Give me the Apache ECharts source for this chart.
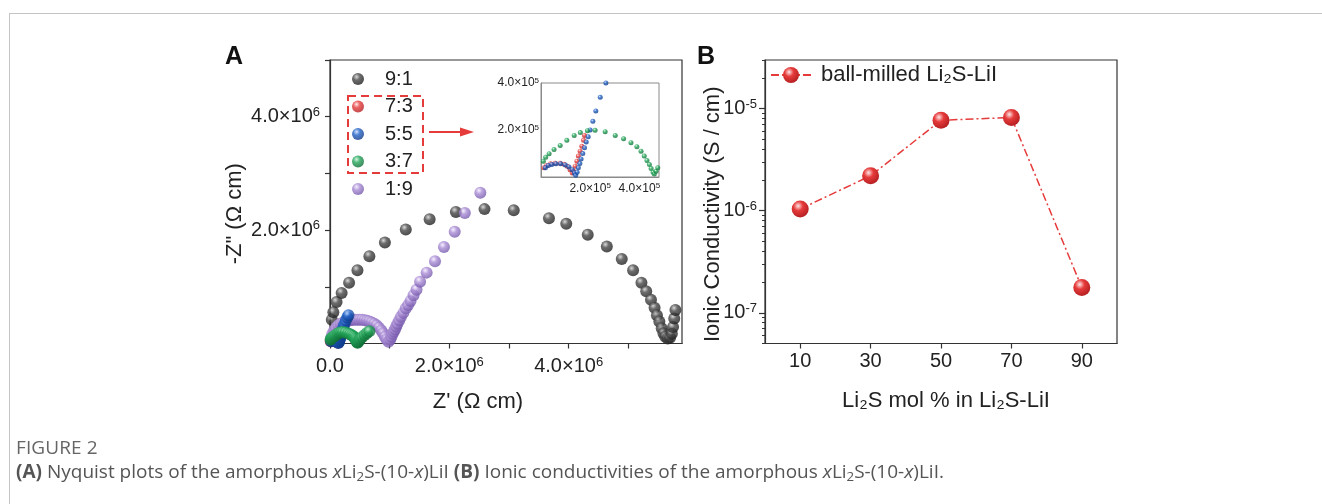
<!DOCTYPE html>
<html>
<head>
<meta charset="utf-8">
<script src="https://cdn.jsdelivr.net/npm/echarts@6/dist/echarts.min.js"></script>
<style>
  body { margin: 0; background: #fff; }
  #wrap { position: relative; width: 1322px; height: 504px; overflow: hidden; }
  #chart { position: absolute; left: 0; top: 0; width: 1322px; height: 504px; }
  #frame { position: absolute; left: 9px; top: 13px; width: 1330px; height: 520px;
           border-top: 1px solid #c4c4c4; border-left: 1px solid #c4c4c4; pointer-events: none; }
  .cap { position: absolute; left: 16px; font-family: "Open Sans", "Noto Sans", sans-serif; color: #555; white-space: nowrap; }
  .cap sub { font-size: 70%; vertical-align: -3px; line-height: 0; }
</style>
</head>
<body>
<div id="wrap">
  <div id="chart"></div>
  <div id="frame"></div>
  <div class="cap" style="top:434px;font-size:19px;letter-spacing:0.1px;color:#666;">FIGURE 2</div>
  <div class="cap" style="top:458px;font-size:19px;"><b>(A)</b> Nyquist plots of the amorphous <i>x</i>Li<sub>2</sub>S-(10-<i>x</i>)LiI <b>(B)</b> Ionic conductivities of the amorphous <i>x</i>Li<sub>2</sub>S-(10-<i>x</i>)LiI.</div>
</div>
<script>
var names = ['9:1', '7:3', '5:5', '3:7', '1:9'];

// Nyquist data, 9:1 and 1:9 in 10^6 Ohm cm
var re91 = [0.03, 0.056, 0.11, 0.195, 0.32, 0.46, 0.66, 0.92, 1.27, 1.67, 2.11, 2.59, 3.08, 3.67, 3.96, 4.32,
            4.64, 4.89, 5.08, 5.22, 5.30, 5.38, 5.44, 5.48, 5.52, 5.56, 5.59, 5.62, 5.66, 5.70, 5.73, 5.75, 5.77, 5.79];
var im91 = [0.42, 0.55, 0.73, 0.89, 1.07, 1.29, 1.54, 1.78, 2.01, 2.19, 2.32, 2.37, 2.35, 2.21, 2.11, 1.92,
            1.71, 1.49, 1.29, 1.07, 0.92, 0.77, 0.63, 0.50, 0.39, 0.27, 0.18, 0.12, 0.09, 0.10, 0.17, 0.29, 0.44, 0.59];
var re19 = [0.02, 0.04, 0.07, 0.10, 0.14, 0.18, 0.22, 0.26, 0.30, 0.34, 0.38, 0.42, 0.46, 0.50, 0.54, 0.58, 0.62, 0.66,
            0.70, 0.74, 0.78, 0.82, 0.86, 0.89, 0.92, 0.95, 0.98, 1.01, 1.03, 1.05, 1.07, 1.09, 1.11, 1.13, 1.16, 1.19,
            1.23, 1.27, 1.31, 1.35, 1.40, 1.45, 1.51, 1.62, 1.76, 1.91, 2.09, 2.26, 2.52];
var im19 = [0.10, 0.17, 0.23, 0.28, 0.32, 0.35, 0.37, 0.39, 0.40, 0.41, 0.42, 0.42, 0.42, 0.42, 0.42, 0.41, 0.40, 0.39,
            0.37, 0.35, 0.32, 0.28, 0.23, 0.18, 0.12, 0.07, 0.03, 0.07, 0.12, 0.17, 0.21, 0.25, 0.30, 0.35, 0.41, 0.47,
            0.54, 0.62, 0.68, 0.75, 0.85, 0.95, 1.09, 1.25, 1.45, 1.70, 1.97, 2.30, 2.66];
// 7:3, 5:5, 3:7 in 10^5 Ohm cm
var re73 = [0.12, 0.23, 0.39, 0.57, 0.78, 0.94, 1.07, 1.18, 1.27, 1.33, 1.39, 1.46, 1.52, 1.59, 1.66, 1.73, 1.77];
var im73 = [0.39, 0.49, 0.56, 0.59, 0.59, 0.54, 0.46, 0.31, 0.17, 0.24, 0.46, 0.67, 0.89, 1.10, 1.31, 1.56, 1.77];
var re55 = [0.18, 0.30, 0.44, 0.61, 0.80, 0.99, 1.14, 1.27, 1.36, 1.41, 1.47, 1.52, 1.58, 1.63, 1.70, 1.77, 1.84,
            1.92, 2.00, 2.11, 2.23, 2.41, 2.64, 2.90, 3.10];
var im55 = [0.39, 0.49, 0.53, 0.56, 0.56, 0.51, 0.43, 0.31, 0.17, 0.07, 0.20, 0.39, 0.57, 0.77, 1.00, 1.24, 1.49,
            1.71, 2.00, 2.37, 2.81, 3.39, 4.00, 4.60, 5.00];
var re37 = [0.095, 0.19, 0.33, 0.53, 0.78, 1.05, 1.35, 1.60, 1.89, 2.20, 2.61, 3.02, 3.36, 3.66, 3.90, 4.07, 4.20,
            4.31, 4.41, 4.48, 4.56, 4.61, 4.68, 4.75, 4.90, 5.10, 5.40, 5.80, 6.20, 6.60];
var im37 = [0.67, 0.84, 0.99, 1.17, 1.34, 1.56, 1.77, 1.89, 1.97, 1.99, 1.93, 1.77, 1.63, 1.46, 1.29, 1.10, 0.89,
            0.70, 0.53, 0.36, 0.20, 0.13, 0.24, 0.39, 0.60, 0.85, 1.15, 1.50, 1.85, 2.15];

// panel B
var bName = 'ball-milled Li₂S-LiI';
var liS = [10, 30, 50, 70, 90];
var sigma = [1.04e-6, 2.2e-6, 7.7e-6, 8.2e-6, 1.77e-7];

var ticksAx = [0, 1e6, 2e6, 3e6, 4e6, 5e6];
var labelsAx = [0, 2e6, 4e6];
var ticksAy = [1e6, 2e6, 3e6, 4e6, 5e6];
var labelsAy = [2e6, 4e6];
var labelsInset = [2e5, 4e5];
var decadesB = [-7, -6, -5];

var ink = '#222';
var font = '"Liberation Sans", Arial, Helvetica, sans-serif';
var yMinB = Math.log10(5e-8), yMaxB = Math.log10(3e-5);

function pairs(xs, ys, unit) {
	return xs.map(function (x, i) { return [x * unit, ys[i] * unit]; });
}
function sphere(hi, mid, lo) {
	return new echarts.graphic.RadialGradient(0.38, 0.32, 0.7, [
		{ offset: 0, color: hi }, { offset: 0.4, color: mid }, { offset: 1, color: lo }
	]);
}
function sci(v) {
	if (v === 0) return '{b|0.0}';
	var e = Math.floor(Math.log10(v) + 1e-9);
	return '{b|' + (v / Math.pow(10, e)).toFixed(1) + '×10}{s|' + e + '}';
}

var cBlack = sphere('#d0d0d0', '#474747', '#1e1e1e');
var cRed = sphere('#ffe6e6', '#e63b3b', '#b51f21');
var cBlue = sphere('#c8dcff', '#2262c6', '#0e3a88');
var cGreen = sphere('#c8f2d6', '#23a65a', '#0f6c35');
var cPurple = sphere('#f4ecff', '#a88bd4', '#7458aa');
var red = '#e63b3b';

var richBig = {
	b: { fontSize: 20, lineHeight: 22, color: ink, fontFamily: font },
	s: { fontSize: 13, lineHeight: 10, verticalAlign: 'top', color: ink, fontFamily: font }
};
var richSmall = {
	b: { fontSize: 12, lineHeight: 13, color: ink, fontFamily: font },
	s: { fontSize: 8, lineHeight: 6, verticalAlign: 'top', color: ink, fontFamily: font }
};
var axLine = { show: true, onZero: false, lineStyle: { color: '#333', width: 1.2 } };

var minorB = [];
[-8, -7, -6, -5].forEach(function (e) {
	for (var m = 2; m <= 9; m++) minorB.push(e + Math.log10(m));
});

function scat(name, data, xi, size, color) {
	return {
		type: 'scatter', name: name, xAxisIndex: xi, yAxisIndex: xi, data: data,
		symbol: 'circle', symbolSize: size, itemStyle: { color: color }, clip: true
	};
}

var chart = echarts.init(document.getElementById('chart'), null, { renderer: 'canvas' });
chart.setOption({
	animation: false,
	backgroundColor: 'transparent',
	textStyle: { fontFamily: font, color: ink },
	grid: [
		{ left: 330, top: 60, width: 352, height: 283.5, show: true, borderColor: '#333', borderWidth: 1.2, outerBoundsMode: 'none' },
		{ left: 541, top: 83, width: 118, height: 94, show: true, borderColor: '#8a8a8a', borderWidth: 1, outerBoundsMode: 'none' },
		{ left: 765, top: 60, width: 352, height: 283.5, show: true, borderColor: '#333', borderWidth: 1.2, outerBoundsMode: 'none' }
	],
	legend: [
		{
			data: names, orient: 'vertical', left: 347, top: 64, itemWidth: 12, itemHeight: 12, itemGap: 7.5,
			icon: 'circle', selectedMode: false,
			textStyle: { fontSize: 20, color: ink, fontFamily: font, padding: [0, 0, 0, 16] }
		},
		{
			data: [bName], left: 765, top: 59, itemWidth: 40, itemHeight: 20, selectedMode: false,
			textStyle: { fontSize: 22, color: ink, fontFamily: font, padding: [0, 0, 0, 5] }
		}
	],
	xAxis: [
		{
			gridIndex: 0, type: 'value', min: 0, max: 5.9e6, axisLine: axLine,
			axisTick: { show: true, length: 5, customValues: ticksAx, lineStyle: { color: '#333', width: 1.2 } },
			axisLabel: { customValues: labelsAx, formatter: sci, margin: 12, fontSize: 20, rich: richBig },
			splitLine: { show: false },
			name: "Z' (Ω cm)", nameLocation: 'middle', nameGap: 47, nameMoveOverlap: false,
			nameTextStyle: { fontSize: 22, color: ink, fontFamily: font, padding: [0, 56, 0, 0] }
		},
		{
			gridIndex: 1, type: 'value', min: 0, max: 4.8e5,
			axisLine: { show: true, onZero: false, lineStyle: { color: '#8a8a8a', width: 1 } },
			axisTick: { show: false },
			axisLabel: { customValues: labelsInset, formatter: sci, margin: 5, fontSize: 12, rich: richSmall },
			splitLine: { show: false }
		},
		{
			gridIndex: 2, type: 'value', min: 0, max: 100, axisLine: axLine,
			axisTick: { show: true, length: 5, customValues: liS, lineStyle: { color: '#333', width: 1.2 } },
			axisLabel: { customValues: liS, margin: 7, fontSize: 20, color: ink, lineHeight: 22 },
			splitLine: { show: false },
			name: 'Li₂S mol % in Li₂S-LiI', nameLocation: 'middle', nameGap: 46, nameMoveOverlap: false,
			nameTextStyle: { fontSize: 22, color: ink, fontFamily: font, padding: [0, 0, 0, 10] }
		}
	],
	yAxis: [
		{
			gridIndex: 0, type: 'value', min: 0, max: 5e6, position: 'left', axisLine: axLine,
			axisTick: { show: true, length: 5, customValues: ticksAy, lineStyle: { color: '#333', width: 1.2 } },
			axisLabel: { customValues: labelsAy, formatter: sci, margin: 10, fontSize: 20, rich: richBig },
			splitLine: { show: false },
			name: '-Z" (Ω cm)', nameLocation: 'middle', nameGap: 84, nameMoveOverlap: false,
			nameTextStyle: { fontSize: 22, color: ink, fontFamily: font, padding: [0, 24, 0, 0] }
		},
		{
			gridIndex: 1, type: 'value', min: 0, max: 4e5, position: 'left',
			axisLine: { show: true, onZero: false, lineStyle: { color: '#8a8a8a', width: 1 } },
			axisTick: { show: false },
			axisLabel: { customValues: labelsInset, formatter: sci, margin: 2, fontSize: 12, rich: richSmall },
			splitLine: { show: false }
		},
		{
			gridIndex: 2, type: 'value', min: yMinB, max: yMaxB, position: 'left', axisLine: axLine,
			axisTick: { show: true, length: 6, customValues: decadesB, lineStyle: { color: '#333', width: 1.2 } },
			axisLabel: {
				customValues: decadesB, margin: 8, fontSize: 20, rich: richBig,
				formatter: function (v) { return '{b|10}{s|' + v + '}'; }
			},
			splitLine: { show: false },
			name: 'Ionic Conductivity (S / cm)', nameLocation: 'middle', nameGap: 41, nameMoveOverlap: false,
			nameTextStyle: { fontSize: 22, color: ink, fontFamily: font, padding: [0, 25, 0, 0] }
		},
		{
			gridIndex: 2, type: 'value', min: yMinB, max: yMaxB, position: 'left',
			axisLine: { show: false },
			axisTick: { show: true, length: 3, customValues: minorB, lineStyle: { color: '#333', width: 1 } },
			axisLabel: { show: false },
			splitLine: { show: false }
		}
	],
	series: [
		scat('9:1', pairs(re91, im91, 1e6), 0, 12, cBlack),
		scat('1:9', pairs(re19, im19, 1e6), 0, 12, cPurple),
		scat('7:3', pairs(re73, im73, 1e5), 0, 12, cRed),
		scat('5:5', pairs(re55, im55, 1e5), 0, 12, cBlue),
		scat('3:7', pairs(re37, im37, 1e5), 0, 12, cGreen),
		scat('7:3', pairs(re73, im73, 1e5), 1, 5, cRed),
		scat('5:5', pairs(re55, im55, 1e5), 1, 5, cBlue),
		scat('3:7', pairs(re37, im37, 1e5), 1, 5, cGreen),
		{
			type: 'line', name: bName, xAxisIndex: 2, yAxisIndex: 2,
			data: liS.map(function (x, i) { return [x, Math.log10(sigma[i])]; }),
			symbol: 'circle', symbolSize: 17, showSymbol: true,
			lineStyle: { color: red, width: 1.5, type: [8, 3, 2, 3] },
			itemStyle: { color: cRed }
		}
	],
	graphic: [
		{ type: 'rect', shape: { x: 348, y: 96, width: 75, height: 77 }, silent: true,
		  style: { fill: 'none', stroke: red, lineWidth: 2, lineDash: [8, 5] } },
		{ type: 'line', shape: { x1: 429, y1: 132, x2: 462, y2: 132 }, silent: true,
		  style: { stroke: red, lineWidth: 2 } },
		{ type: 'polygon', shape: { points: [[474, 132], [460, 127.5], [460, 136.5]] }, silent: true,
		  style: { fill: red } },
		{ type: 'text', x: 234, y: 57, silent: true,
		  style: { text: 'A', fill: '#111', font: 'bold 25px ' + font, align: 'center', verticalAlign: 'middle' } },
		{ type: 'text', x: 706, y: 57, silent: true,
		  style: { text: 'B', fill: '#111', font: 'bold 25px ' + font, align: 'center', verticalAlign: 'middle' } }
	]
});
</script>
</body>
</html>
